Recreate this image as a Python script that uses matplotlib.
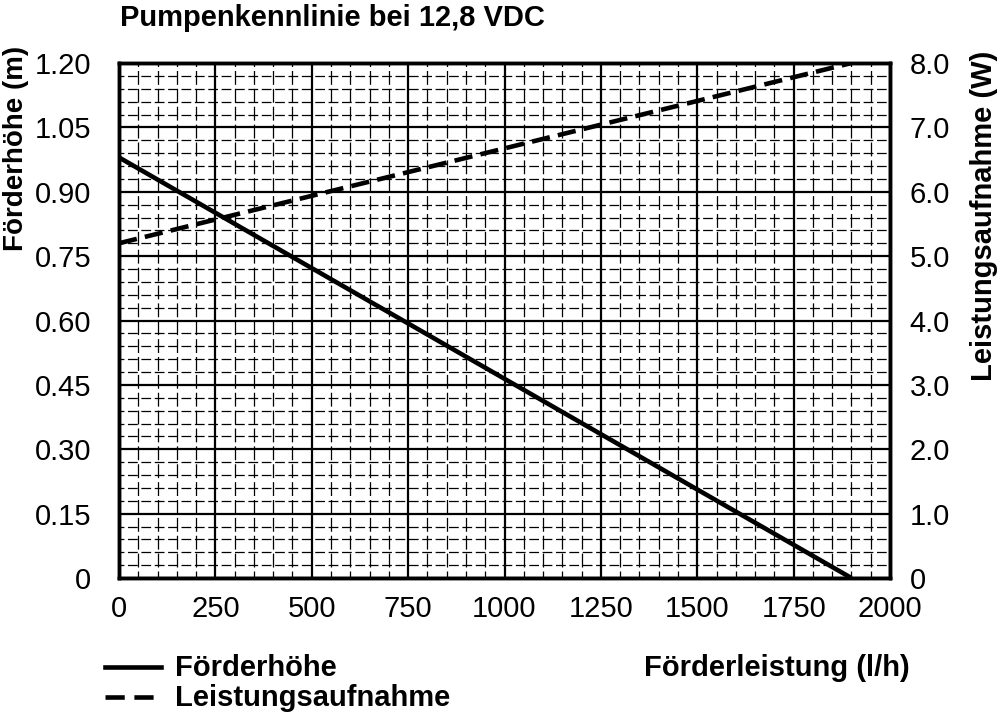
import matplotlib
matplotlib.use("Agg")
import matplotlib.pyplot as plt
from matplotlib.lines import Line2D
from matplotlib.ticker import MultipleLocator

# Daten
foerderleistung = [0, 1900]          # l/h
foerderhoehe = [0.98, 0.0]           # m
leistung = [5.2, 8.0]                # W

x_ticks = [0, 250, 500, 750, 1000, 1250, 1500, 1750, 2000]
y_links = [0, 0.15, 0.30, 0.45, 0.60, 0.75, 0.90, 1.05, 1.20]
y_links_labels = ["0", "0.15", "0.30", "0.45", "0.60", "0.75", "0.90", "1.05", "1.20"]
y_rechts = [0, 1, 2, 3, 4, 5, 6, 7, 8]
y_rechts_labels = ["0", "1.0", "2.0", "3.0", "4.0", "5.0", "6.0", "7.0", "8.0"]

schrift = ["Liberation Sans", "DejaVu Sans"]
gestrichelt = (0, (4, 1.8))

fig = plt.figure(figsize=(10, 7.21), dpi=100)
ax = fig.add_axes([0.119, 0.1983, 0.771, 0.7143])
ax2 = ax.twinx()

ax.set_xlim(0, 2000)
ax.set_ylim(0, 1.2)
ax2.set_ylim(0, 8)

# Gitter: Nebenlinien gestrichelt, Hauptlinien durchgezogen
ax.xaxis.set_minor_locator(MultipleLocator(50))
ax.yaxis.set_minor_locator(MultipleLocator(0.03))
ax.xaxis.grid(True, which="minor", color="black", lw=0.9, ls=(5.5, (11.1, 3.2)))
ax.yaxis.grid(True, which="minor", color="black", lw=0.9, ls=(3.9, (7.8, 2.9)))
ax.grid(which="major", color="black", lw=1.6, ls="-")
ax.set_axisbelow(True)

ax.set_xticks(x_ticks)
ax.set_xticklabels([str(t) for t in x_ticks], family=schrift, fontsize=21)
ax.set_yticks(y_links)
ax.set_yticklabels(y_links_labels, family=schrift, fontsize=21)
ax2.set_yticks(y_rechts)
ax2.set_yticklabels(y_rechts_labels, family=schrift, fontsize=21)

ax.tick_params(which="both", length=0)
ax.tick_params(axis="x", pad=12)
ax.tick_params(axis="y", pad=20)
ax2.tick_params(which="both", length=0, pad=14)

for a in (ax, ax2):
    for s in a.spines.values():
        s.set_linewidth(2.5)

ax.plot(foerderleistung, foerderhoehe, color="black", lw=3.3, solid_capstyle="butt")
ax2.plot(foerderleistung, leistung, color="black", lw=3.3, ls=gestrichelt)

# Texte
fig.text(0.120, 0.975, "Pumpenkennlinie bei 12,8 VDC", family=schrift, fontweight="bold",
         fontsize=21, ha="left", va="center")
fig.text(0.016, 0.937, "Förderhöhe (m)", family=schrift, fontweight="bold", fontsize=20,
         rotation=90, ha="center", va="top")
fig.text(0.984, 0.93, "Leistungsaufnahme (W)", family=schrift, fontweight="bold", fontsize=21,
         rotation=90, ha="center", va="top")
fig.text(0.910, 0.0735, "Förderleistung (l/h)", family=schrift, fontweight="bold", fontsize=21,
         ha="right", va="center")

# Legende
fig.lines.append(Line2D([0.105, 0.161], [0.0745, 0.0745], transform=fig.transFigure,
                        color="black", lw=3.3))
fig.lines.append(Line2D([0.105, 0.161], [0.033, 0.033], transform=fig.transFigure,
                        color="black", lw=3.3, ls=(0, (4.2, 2.1))))
fig.text(0.175, 0.0735, "Förderhöhe", family=schrift, fontweight="bold", fontsize=21,
         ha="left", va="center")
fig.text(0.175, 0.032, "Leistungsaufnahme", family=schrift, fontweight="bold", fontsize=21,
         ha="left", va="center")

fig.savefig("out.png", dpi=100)
